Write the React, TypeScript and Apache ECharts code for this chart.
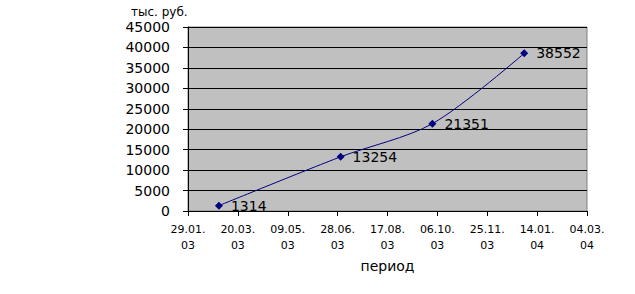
import React, { useEffect, useRef } from "react";
import * as echarts from "echarts";

const dates = ["01.03.2003", "01.07.2003", "01.10.2003", "01.01.2004"];
const revenue = [1314, 13254, 21351, 38552];
const axisStart = "29.01.2003";
const axisEnd = "04.03.2004";
const tickStepDays = 50;
const yMin = 0;
const yMax = 45000;
const yStep = 5000;
const yAxisTitle = "тыс. руб.";
const xAxisTitle = "период";

const DAY = 86400000;
function parseDate(d: string): number {
  const [dd, mm, yy] = d.split(".").map(Number);
  return Date.UTC(yy, mm - 1, dd);
}
const base = parseDate(axisStart);
function dayOffset(d: string): number {
  return Math.round((parseDate(d) - base) / DAY);
}
function pad(n: number): string {
  return n < 10 ? "0" + n : String(n);
}
function formatTick(v: number): string {
  const dt = new Date(base + v * DAY);
  return pad(dt.getUTCDate()) + "." + pad(dt.getUTCMonth() + 1) + ".\n" + pad(dt.getUTCFullYear() % 100);
}

const FONT = "DejaVu Sans";

export default function App() {
  const ref = useRef<HTMLDivElement>(null);
  useEffect(() => {
    document.body.style.margin = "0";
    const chart = echarts.init(ref.current!, null, { renderer: "svg" });
    chart.setOption({
      animation: false,
      backgroundColor: "#ffffff",
      textStyle: { fontFamily: FONT, color: "#000" },
      grid: {
        left: 188,
        top: 27,
        right: 48,
        bottom: 83,
        show: true,
        backgroundColor: "#C0C0C0",
        borderColor: "#808080",
        borderWidth: 1,
      },
      graphic: [
        {
          type: "text",
          left: 131,
          top: 6,
          style: { text: yAxisTitle, fontFamily: FONT, fontSize: 12, fill: "#000" },
        },
      ],
      xAxis: {
        type: "value",
        min: 0,
        max: dayOffset(axisEnd),
        interval: tickStepDays,
        name: xAxisTitle,
        nameLocation: "middle",
        nameGap: 48,
        nameTextStyle: { fontFamily: FONT, fontSize: 14, color: "#000" },
        axisLine: { show: true, lineStyle: { color: "#000", width: 1 } },
        axisTick: { show: true, length: 5, lineStyle: { color: "#000" } },
        splitLine: { show: false },
        axisLabel: {
          formatter: (v: number) => formatTick(v),
          fontFamily: FONT,
          fontSize: 11,
          lineHeight: 16,
          color: "#000",
          margin: 10,
          align: "center",
          verticalAlign: "top",
          hideOverlap: false,
        },
      },
      yAxis: {
        type: "value",
        min: yMin,
        max: yMax,
        interval: yStep,
        axisLine: { show: true, lineStyle: { color: "#000", width: 1 } },
        axisTick: { show: true, length: 5, lineStyle: { color: "#000" } },
        splitLine: { show: true, lineStyle: { color: "#000", width: 1 } },
        axisLabel: {
          formatter: (v: number) => String(v),
          fontFamily: FONT,
          fontSize: 14,
          color: "#000",
          margin: 18,
        },
      },
      series: [
        {
          type: "line",
          data: dates.map((d, i) => [dayOffset(d), revenue[i]]),
          smooth: 0.3,
          symbol: "diamond",
          symbolSize: 8,
          itemStyle: { color: "#000080" },
          lineStyle: { color: "#000080", width: 1 },
          label: {
            show: true,
            position: "right",
            distance: 8,
            fontFamily: FONT,
            fontSize: 14,
            color: "#000",
          },
        },
      ],
    });
    return () => chart.dispose();
  }, []);
  return <div ref={ref} style={{ width: 635, height: 294 }} />;
}
